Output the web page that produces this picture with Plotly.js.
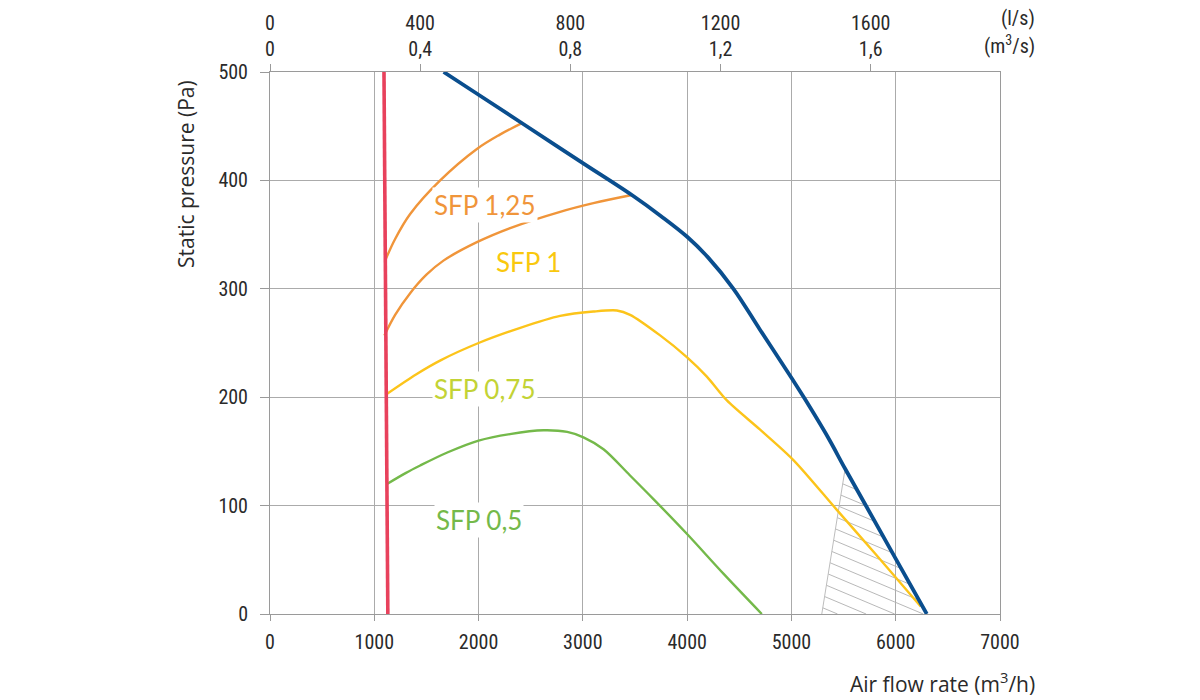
<!DOCTYPE html>
<html>
<head>
<meta charset="utf-8">
<script src="https://cdn.plot.ly/plotly-3.0.1.min.js"></script>
<style>html,body{margin:0;padding:0;background:#fff;}#chart{width:1200px;height:700px;}</style>
</head>
<body>
<div id="chart"></div>
<script>
// ---- data (air flow m3/h, static pressure Pa) ----
const xTicks = [0, 1000, 2000, 3000, 4000, 5000, 6000, 7000];
const yTicks = [0, 100, 200, 300, 400, 500];
const topLs = [0, 400, 800, 1200, 1600];
const topM3s = ['0', '0,4', '0,8', '1,2', '1,6'];

const redX = [1093, 1130];
const redY = [500, 0];

const blueX = [1665, 2000, 2421, 3000, 3470, 3750, 4000, 4200, 4444, 4700, 5000, 5131, 5350, 5515, 5723, 5994, 6298];
const blueY = [500, 479, 452.5, 416, 386.5, 367, 348, 329, 300, 262, 218, 198, 163, 134, 98.5, 52, 0];

const sfp125X = [1104, 1200, 1344, 1632, 1984, 2200, 2421];
const sfp125Y = [326, 346, 369, 400, 429, 442, 453];

const sfp1X = [1097, 1200, 1344, 1500, 1663, 1984, 2303, 2782, 3101, 3470];
const sfp1Y = [257, 276, 296, 313, 326, 343, 356, 371, 379, 386.5];

const sfp075X = [1120, 1400, 1635, 2000, 2400, 2782, 3101, 3326, 3453, 3741, 3997, 4189, 4381, 4700, 5019, 5427, 5800, 6240];
const sfp075Y = [203, 221, 234, 250, 264, 275, 279, 280, 276, 257, 237, 219, 197, 170, 142, 97, 56, 7];

const sfp05X = [1122, 1300, 1440, 1700, 2000, 2300, 2622, 2850, 3006, 3198, 3450, 3677, 3997, 4350, 4716];
const sfp05Y = [120, 130, 137, 149, 160, 166, 169.5, 168, 163, 152, 128, 106, 74, 37, 0];

const hatchX = [5291, 5515, 5723, 5994, 6298];
const hatchY = [0, 134, 98.5, 52, 0];

const labels = ['SFP 1,25', 'SFP 1', 'SFP 0,75', 'SFP 0,5'];
const labelX = [2063, 2476, 2063, 2000];
const labelY = [377, 325, 208, 87];

// ---- styles ----
const C = {red:'#e8415c', blue:'#0a4e8e', orange:'#f0953a', yellow:'#fcc41a', green:'#74b94a', lime:'#c3d335'};
const labelColors = [C.orange, '#f9c80e', C.lime, C.green];
const tickFont = {family:'"Liberation Sans Narrow", "Arial Narrow", "Roboto Condensed", sans-serif', size:20, color:'#2a2a2a'};
const textFont = '"Open Sans", Lato, sans-serif';

// hatch lines clipped to the hatched polygon
function hatchLines(px, py, k, step) {
  const vx = px.concat([px[0]]), vy = py.concat([py[0]]);
  const cs = px.map((v, i) => py[i] - k * v);
  const cmin = Math.min(...cs), cmax = Math.max(...cs);
  const hx = [], hy = [];
  for (let c = cmin + step * 0.55; c < cmax; c += step) {
    const pts = [];
    for (let i = 0; i < vx.length - 1; i++) {
      const f1 = vy[i] - k * vx[i] - c, f2 = vy[i + 1] - k * vx[i + 1] - c;
      if ((f1 <= 0 && f2 > 0) || (f1 > 0 && f2 <= 0)) {
        const t = f1 / (f1 - f2);
        pts.push([vx[i] + t * (vx[i + 1] - vx[i]), vy[i] + t * (vy[i + 1] - vy[i])]);
      }
    }
    if (pts.length >= 2) {
      pts.sort((a, b) => a[0] - b[0]);
      hx.push(pts[0][0], pts[pts.length - 1][0], null);
      hy.push(pts[0][1], pts[pts.length - 1][1], null);
    }
  }
  return {hx, hy};
}
const H = hatchLines(hatchX, hatchY, -0.0405, 11.1);

const traces = [
  {x:H.hx, y:H.hy, mode:'lines', line:{color:'#b0b0b0', width:0.9}, hoverinfo:'skip'},
  {x:hatchX.slice(0, 2), y:hatchY.slice(0, 2), mode:'lines', line:{color:'#bdbdbd', width:1}, hoverinfo:'skip'},
  {x:sfp125X, y:sfp125Y, mode:'lines', line:{color:C.orange, width:2.4, shape:'spline', smoothing:1}},
  {x:sfp1X, y:sfp1Y, mode:'lines', line:{color:C.orange, width:2.4, shape:'spline', smoothing:1}},
  {x:sfp075X, y:sfp075Y, mode:'lines', line:{color:C.yellow, width:2.4, shape:'spline', smoothing:0.8}},
  {x:sfp05X, y:sfp05Y, mode:'lines', line:{color:C.green, width:2.4, shape:'spline', smoothing:0.9}},
  {x:blueX, y:blueY, mode:'lines', line:{color:C.blue, width:3.8, shape:'spline', smoothing:1}},
  {x:redX, y:redY, xaxis:'x2', mode:'lines', line:{color:C.red, width:3.6}}
];

const annotations = labels.map((t, i) => ({
  x:labelX[i], y:labelY[i], xref:'x', yref:'y', text:t, showarrow:false,
  font:{family:'Lato, "Open Sans", sans-serif', size:26, color:labelColors[i]}, bgcolor:'#ffffff', borderpad:1
}));
annotations.push(
  {xref:'paper', yref:'paper', x:-0.115, y:0.812, text:'Static pressure (Pa)', textangle:-90, showarrow:false,
   font:{family:textFont, size:21, color:'#2a2a2a'}, xanchor:'center', yanchor:'middle'},
  {xref:'paper', yref:'paper', x:1.0507, y:-0.126, text:'Air flow rate (m<sup>3</sup>/h)', showarrow:false,
   font:{family:textFont, size:21, color:'#2a2a2a'}, xanchor:'right', yanchor:'middle'},
  {xref:'paper', yref:'paper', x:1.0507, y:1.0, yshift:54, text:'(l/s)', showarrow:false,
   font:tickFont, xanchor:'right', yanchor:'middle'},
  {xref:'paper', yref:'paper', x:1.0507, y:1.0, yshift:27, text:'(m<sup>3</sup>/s)', showarrow:false,
   font:tickFont, xanchor:'right', yanchor:'middle'}
);

const layout = {
  width:1200, height:700,
  margin:{l:270, r:200, t:72, b:86},
  paper_bgcolor:'#fff', plot_bgcolor:'#fff',
  showlegend:false,
  xaxis:{range:[0, 7000], tickmode:'array', tickvals:xTicks, ticktext:xTicks.map(String),
    showgrid:true, gridcolor:'#ababab', gridwidth:1, zeroline:false,
    showline:true, linecolor:'#9a9a9a', linewidth:1, ticks:'outside', ticklen:6, tickcolor:'#9a9a9a',
    tickfont:tickFont, ticklabelstandoff:4, fixedrange:true},
  xaxis2:{range:[0, 7000], overlaying:'x', side:'top', tickmode:'array',
    tickvals:topLs.map(v => v * 3.6), ticktext:topLs.map((v, i) => v + '<br>' + topM3s[i]),
    showgrid:false, zeroline:false, showline:true, linecolor:'#9a9a9a', linewidth:1,
    ticks:'outside', ticklen:7, tickcolor:'#9a9a9a', tickfont:tickFont, ticklabelstandoff:0, fixedrange:true},
  yaxis:{range:[0, 500], tickmode:'array', tickvals:yTicks, ticktext:yTicks.map(String),
    showgrid:true, gridcolor:'#ababab', gridwidth:1, zeroline:false,
    showline:true, mirror:true, linecolor:'#9a9a9a', linewidth:1, ticks:'outside', ticklen:9, tickcolor:'#9a9a9a',
    tickfont:tickFont, ticklabelstandoff:8, fixedrange:true},
  annotations:annotations
};

Plotly.newPlot('chart', traces, layout, {displayModeBar:false, staticPlot:true});
</script>
</body>
</html>
